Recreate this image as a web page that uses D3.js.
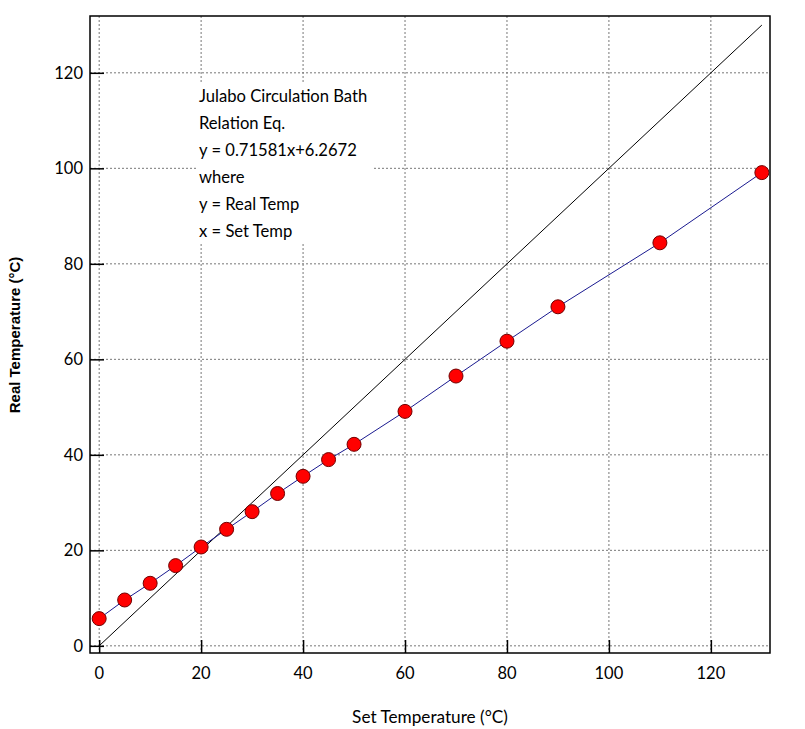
<!DOCTYPE html>
<html><head><meta charset="utf-8">
<script src="https://cdn.jsdelivr.net/npm/d3@7"></script>
<style>body{margin:0;background:#fff;} svg{display:block;}</style>
</head><body>
<script>
const setTemp = [0,5,10,15,20,25,30,35,40,45,50,60,70,80,90,110,130];
const realTemp = [5.7,9.6,13.1,16.8,20.7,24.4,28.1,31.9,35.5,39.0,42.2,49.1,56.5,63.8,71.0,84.4,99.1];
const identityLine = [[0,0],[130,130]];
const xTicks = [0,20,40,60,80,100,120];
const yTicks = [0,20,40,60,80,100,120];
const noteLines = ["Julabo Circulation Bath","Relation Eq.","y = 0.71581x+6.2672","where","y = Real Temp","x = Set Temp"];

const W=805,H=729;
const svg=d3.select("body").append("svg").attr("width",W).attr("height",H);
const L=90,R=770,T=16,B=653;
const x=d3.scaleLinear().domain([-1.8,131.6]).range([L,R]);
const y=d3.scaleLinear().domain([-1.5,131.9]).range([B,T]);
const font="Lato, 'Open Sans', sans-serif";

// grid
const g=svg.append("g");
g.selectAll(".vg").data(xTicks).enter().append("line")
 .attr("x1",d=>x(d)).attr("x2",d=>x(d)).attr("y1",T).attr("y2",B)
 .attr("stroke","#777").attr("stroke-width",1).attr("stroke-dasharray","2,2");
g.selectAll(".hg").data(yTicks).enter().append("line")
 .attr("y1",d=>y(d)).attr("y2",d=>y(d)).attr("x1",L).attr("x2",R)
 .attr("stroke","#777").attr("stroke-width",1).attr("stroke-dasharray","2,2");

// note box
svg.append("rect").attr("x",197).attr("y",84).attr("width",176).attr("height",159).attr("fill","#fff");
svg.append("g").selectAll("text").data(noteLines).enter().append("text")
 .attr("x",199).attr("y",(d,i)=>102+i*27)
 .attr("font-family",font).attr("font-size",16.6).attr("fill","#000").text(d=>d);

// identity line
const line=d3.line().x(d=>x(d[0])).y(d=>y(d[1]));
svg.append("path").attr("d",line(identityLine)).attr("fill","none").attr("stroke","#000").attr("stroke-width",1);
// data line
const pts=setTemp.map((v,i)=>[v,realTemp[i]]);
svg.append("path").attr("d",line(pts)).attr("fill","none").attr("stroke","#1a1a90").attr("stroke-width",1);
svg.append("g").selectAll("circle").data(pts).enter().append("circle")
 .attr("cx",d=>x(d[0])).attr("cy",d=>y(d[1])).attr("r",7)
 .attr("fill","#ff0000").attr("stroke","#700000").attr("stroke-width",1);

// frame
svg.append("rect").attr("x",L).attr("y",T).attr("width",R-L).attr("height",B-T)
 .attr("fill","none").attr("stroke","#000").attr("stroke-width",1.5);

// axes (ticks inward)
const xAxis=d3.axisTop(x).tickValues(xTicks).tickSize(13).tickFormat("");
svg.append("g").attr("transform",`translate(0,${B})`).call(xAxis)
 .call(a=>{a.select(".domain").remove();a.selectAll("line").attr("stroke","#000").attr("stroke-width",1.5);});
const yAxis=d3.axisRight(y).tickValues(yTicks).tickSize(14).tickFormat("");
svg.append("g").attr("transform",`translate(${L},0)`).call(yAxis)
 .call(a=>{a.select(".domain").remove();a.selectAll("line").attr("stroke","#000").attr("stroke-width",1.5);});

// tick labels
svg.append("g").selectAll("text").data(xTicks).enter().append("text")
 .attr("x",d=>x(d)).attr("y",679).attr("text-anchor","middle")
 .attr("font-family",font).attr("font-size",16.5).text(d=>d);
svg.append("g").selectAll("text").data(yTicks).enter().append("text")
 .attr("x",83).attr("y",d=>y(d)+6).attr("text-anchor","end")
 .attr("font-family",font).attr("font-size",16.5).text(d=>d);

// titles
svg.append("text").attr("x",430).attr("y",723).attr("text-anchor","middle")
 .attr("font-family",font).attr("font-size",17.2).text("Set Temperature (°C)");
svg.append("text").attr("transform","translate(20,335) rotate(-90)").attr("text-anchor","middle")
 .attr("font-family","'Liberation Sans', Arial, sans-serif").attr("font-weight","bold").attr("font-size",15)
 .text("Real Temperature (°C)");
</script>
</body></html>
